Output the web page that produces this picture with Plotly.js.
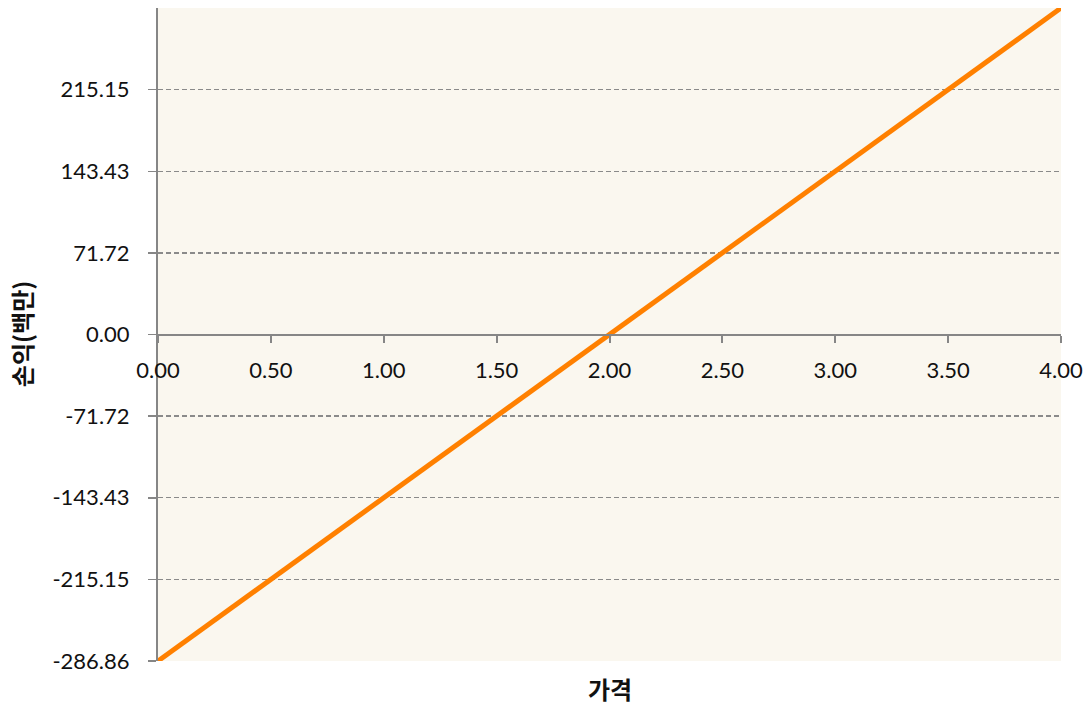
<!DOCTYPE html>
<html>
<head>
<meta charset="utf-8">
<script src="https://cdn.plot.ly/plotly-3.0.1.min.js"></script>
<style>html,body{margin:0;padding:0;background:#fff;}#chart{width:1090px;height:711px;}</style>
</head>
<body>
<div id="chart"></div>
<script>
const prices = [0, 0.5, 1.0, 1.5, 2.0, 2.5, 3.0, 3.5, 4.0];
const profit = [-286.86, -215.15, -143.43, -71.72, 0, 71.72, 143.43, 215.15, 286.86];
const yTickVals = [-286.86, -215.15, -143.43, -71.72, 0, 71.72, 143.43, 215.15];
const yTickText = ["-286.86", "-215.15", "-143.43", "-71.72", "0.00", "71.72", "143.43", "215.15"];
const xTickVals = [0, 0.5, 1.0, 1.5, 2.0, 2.5, 3.0, 3.5, 4.0];
const xTitle = "가격";
const yTitle = "손익(백만)";

const tickFont = {family: "Lato, 'Noto Sans', sans-serif", size: 22, color: "#111"};
const titleFont = {family: "'Noto Sans CJK KR', sans-serif", size: 24, color: "#111", weight: 700};

const trace = {
  x: prices, y: profit, type: "scatter", mode: "lines",
  line: {color: "#FF8000", width: 5}, hoverinfo: "x+y", showlegend: false
};

const layout = {
  width: 1090, height: 711,
  margin: {l: 158, r: 29, t: 8, b: 50},
  paper_bgcolor: "#ffffff",
  plot_bgcolor: "#FAF7EF",
  showlegend: false,
  xaxis: {
    range: [0, 4], anchor: "free", position: 0.5,
    tickvals: xTickVals, tickformat: ".2f",
    ticks: "outside", ticklen: 7, tickwidth: 2, tickcolor: "#868686",
    showline: true, linecolor: "#868686", linewidth: 2,
    showgrid: false, zeroline: false,
    tickfont: tickFont, ticklabelstandoff: 9
  },
  yaxis: {
    range: [-286.86, 286.86],
    tickvals: yTickVals, ticktext: yTickText,
    ticks: "outside", ticklen: 8, tickwidth: 1.5, tickcolor: "#868686",
    showline: true, linecolor: "#868686", linewidth: 2,
    showgrid: true, gridcolor: "#8a8a8a", gridwidth: 1.3, griddash: "5px,3px",
    zeroline: false,
    tickfont: tickFont, ticklabelstandoff: 14
  },
  annotations: [
    {text: xTitle, xref: "paper", yref: "paper", x: 0.5, y: -0.042, xanchor: "center", yanchor: "middle",
     showarrow: false, font: titleFont},
    {text: yTitle, xref: "paper", yref: "paper", x: -0.151, y: 0.5, xanchor: "center", yanchor: "middle",
     textangle: -90, showarrow: false, font: titleFont}
  ]
};

Plotly.newPlot("chart", [trace], layout, {displayModeBar: false, staticPlot: true});
</script>
</body>
</html>
